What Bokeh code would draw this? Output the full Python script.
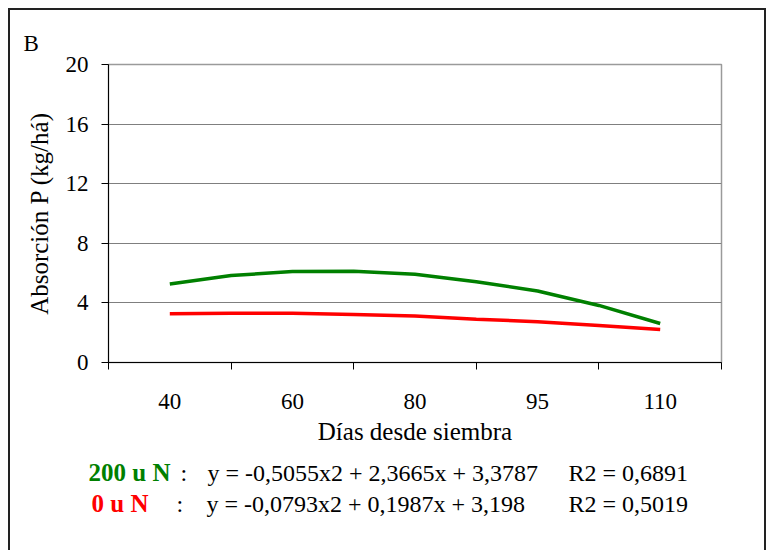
from bokeh.plotting import figure
from bokeh.layouts import column
from bokeh.models import FixedTicker, Range1d
from bokeh.core.properties import value
from bokeh.embed import file_html
from bokeh.resources import INLINE

# ---- data ----
days = ["40", "60", "80", "95", "110"]          # category labels (x axis)
cat_pos = [1, 2, 3, 4, 5]                        # category positions
curve_x = [1, 1.5, 2, 2.5, 3, 3.5, 4, 4.5, 5]    # positions along category axis
n200 = [5.27, 5.84, 6.10, 6.12, 5.93, 5.42, 4.80, 3.83, 2.62]
n0 = [3.28, 3.30, 3.30, 3.22, 3.12, 2.90, 2.74, 2.48, 2.21]
y_ticks = [0, 4, 8, 12, 16, 20]

GREEN = "#008000"
RED = "#ff0000"
FONT = "Liberation Serif"

W = 754
H_MAIN = 445
H_EQ = 95

p = figure(width=W, height=H_MAIN, output_backend="svg", toolbar_location=None,
           x_range=Range1d(0.5, 5.5), y_range=Range1d(0, 20),
           min_border_left=98, min_border_right=43, min_border_top=54,
           min_border_bottom=H_MAIN - 54 - 298)
p.frame_align = False
p.outline_line_color = "#9a9a9a"
p.outline_line_width = 1.5

p.title.text = "B"
p.title.align = "left"
p.title.offset = -85
p.title.standoff = 17
p.title.text_font = FONT
p.title.text_font_size = "23px"
p.title.text_font_style = "normal"
p.title.text_color = "black"

p.line(curve_x, n200, line_color=GREEN, line_width=3.5)
p.line(curve_x, n0, line_color=RED, line_width=3.5)

# x axis (category-like: ticks between categories)
p.xaxis.ticker = FixedTicker(ticks=cat_pos,
                             minor_ticks=[c - 0.5 for c in cat_pos] + [cat_pos[-1] + 0.5])
p.xaxis.major_label_overrides = {c: d for c, d in zip(cat_pos, days)}
p.xaxis.major_tick_line_color = None
p.xaxis.major_tick_out = 0
p.xaxis.major_tick_in = 0
p.xaxis.minor_tick_out = 7
p.xaxis.minor_tick_in = 0
p.xaxis.minor_tick_line_color = "black"
p.xaxis.major_label_standoff = 24
p.xaxis.axis_label = "Días desde siembra"
p.xaxis.axis_label_standoff = 6
p.xgrid.visible = False

p.yaxis.ticker = FixedTicker(ticks=y_ticks)
p.yaxis.major_tick_out = 7
p.yaxis.major_tick_in = 0
p.yaxis.major_tick_line_color = "black"
p.yaxis.minor_tick_line_color = None
p.yaxis.major_label_standoff = 13
p.yaxis.axis_label = "Absorción P (kg/há)"
p.yaxis.axis_label_standoff = 10
p.ygrid.ticker = FixedTicker(ticks=y_ticks)
p.ygrid.grid_line_color = "#7f7f7f"
p.ygrid.grid_line_width = 1

for ax in (p.xaxis, p.yaxis):
    ax.axis_line_color = "black"
    ax.axis_line_width = 1
    ax.major_label_text_font = FONT
    ax.major_label_text_font_size = "23px"
    ax.major_label_text_color = "black"
    ax.axis_label_text_font = FONT
    ax.axis_label_text_font_size = "25px"
    ax.axis_label_text_font_style = "normal"
    ax.axis_label_text_color = "black"

# ---- equations panel (frame covers the whole canvas, 1 unit = 1 px) ----
q = figure(width=W, height=H_EQ, output_backend="svg", toolbar_location=None,
           x_range=Range1d(0, W), y_range=Range1d(0, H_EQ),
           min_border=0, min_border_left=0, min_border_right=0,
           min_border_top=0, min_border_bottom=0,
           x_axis_type=None, y_axis_type=None)
q.frame_align = False
q.grid.visible = False
q.outline_line_color = None

TOP = 10 + H_MAIN  # page y of the top of this panel


def t(txt, x, y, color="black", style="normal", size="24px"):
    q.text(x=[x - 10], y=[H_EQ - (y - TOP)], text=[txt], text_font=value(FONT),
           text_font_size=size, text_color=color, text_font_style=style,
           text_baseline="alphabetic", text_align="left")


t("200 u N", 88, 472, color=GREEN, style="bold", size="25px")
t(":", 180, 472)
t("y = -0,5055x2 + 2,3665x + 3,3787", 207, 472)
t("R2 = 0,6891", 568, 472)

t("0 u N", 91, 503, color=RED, style="bold", size="25px")
t(":", 176, 503)
t("y = -0,0793x2 + 0,1987x + 3,198", 206, 503)
t("R2 = 0,5019", 568, 503)

layout = column(p, q, spacing=0)
layout.styles = {"border-left": "2px solid #222", "border-top": "2px solid #222",
                 "border-right": "2px solid #222", "margin-left": "8px",
                 "margin-top": "8px"}

open("out.html", "w").write(file_html(layout, INLINE))
